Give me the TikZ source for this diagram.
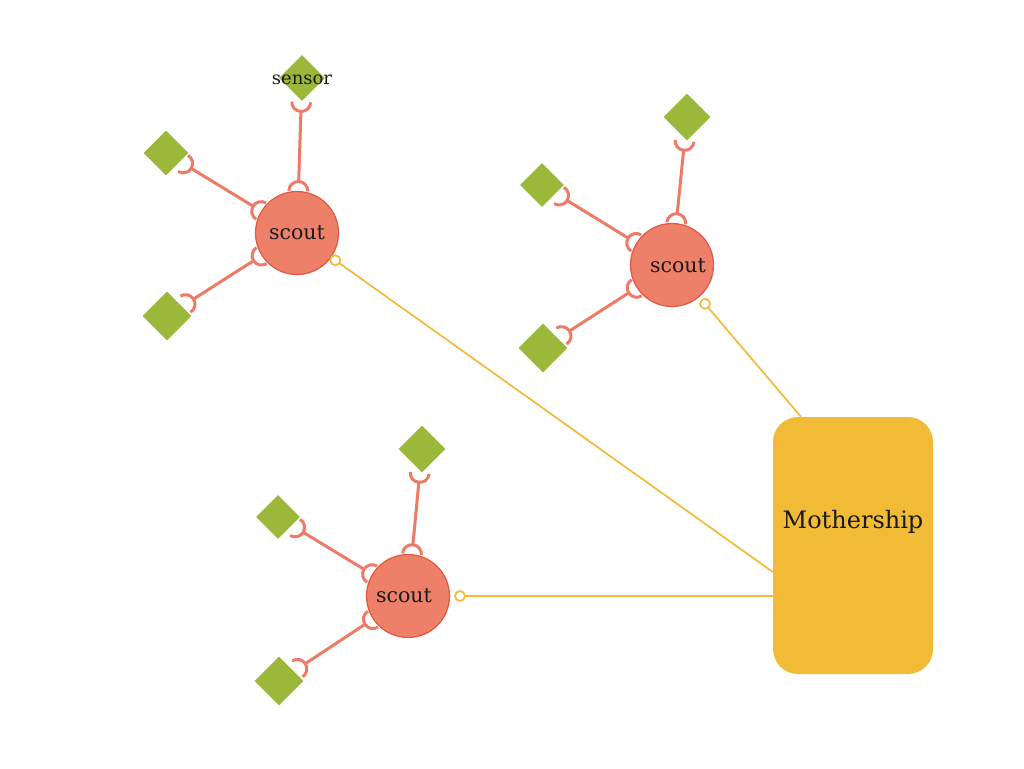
\documentclass[tikz,border=0pt]{standalone}
\usepackage{fontspec}
\setmainfont{DejaVu Serif}
\usetikzlibrary{shapes.geometric,calc}
\definecolor{scoutfill}{HTML}{EE806A}
\definecolor{scoutline}{HTML}{E0583F}
\definecolor{linkc}{HTML}{EE7B68}
\definecolor{sensorc}{HTML}{9BB83A}
\definecolor{motherc}{HTML}{F2BB35}
\definecolor{textc}{HTML}{1A1A1A}
\tikzset{
  scout/.style={circle, fill=scoutfill, draw=scoutline, line width=1.2pt, minimum size=83pt, inner sep=0pt},
  scouttext/.style={text=textc, font=\fontsize{20.5}{22}\selectfont},
  sensorbox/.style={diamond, fill=sensorc, inner sep=0pt, aspect=1},
  mothership/.style={rectangle, rounded corners=25pt, fill=motherc, minimum width=160pt, minimum height=257pt, inner sep=0pt},
  link/.style={draw=linkc, line width=3pt},
  mline/.style={draw=motherc, line width=1.7pt},
}
\newcommand\socketlink[3]{%
  \draw[link] let \p1=($(#2)-(#1)$), \n1={atan2(\y1,\x1)} in
    ($(#1)!42pt!(#2)+(\n1+90:9.5pt)$) arc[start angle=\n1+90, end angle=\n1-90, radius=9.5pt]
    ($(#1)!42pt!(#2)+(\n1:9.5pt)$) -- ($(#2)!#3!(#1)+(\n1+180:9.5pt)$)
    ($(#2)!#3!(#1)+(\n1-90:9.5pt)$) arc[start angle=\n1-90, end angle=\n1-270, radius=9.5pt];
}
\newcommand\balllink[3]{%
  \draw[mline, shorten <=#3pt+5pt] (#1.center) -- (#2);
  \draw[mline, fill=white] ($(#1.center)!#3pt!(#2)$) circle[radius=5pt];
}
\begin{document}
\begin{tikzpicture}[x=1pt, y=-1pt]
\useasboundingbox (0,0) rectangle (1024,768);
% mothership
\node[mothership, label={[text=textc, font=\fontsize{24}{26}\selectfont, yshift=23.5pt]center:Mothership}] (ms) at (853,545.5) {};
\coordinate (m1) at ($(ms.west)+(0,26.5)$);
\coordinate (m2) at ($(ms.north)+(-52,0)$);
\coordinate (m3) at ($(ms.west)+(0,50.5)$);
% scouts
\node[scout, label={[scouttext]center:scout}] (s1) at (297,233) {};
\node[scout, label={[scouttext, xshift=6pt, yshift=-1pt]center:scout}] (s2) at (672,265) {};
\node[scout, label={[scouttext, xshift=-4pt]center:scout}] (s3) at (408,596) {};
% sensors
\node[sensorbox, minimum size=46pt, label={[text=textc, font=\fontsize{18}{20}\selectfont, yshift=-2pt]center:sensor}] (d11) at (302,78) {};
\node[sensorbox, minimum size=45pt] (d12) at (166,153) {};
\node[sensorbox, minimum size=49pt] (d13) at (167,316) {};
\node[sensorbox, minimum size=47pt] (d21) at (687,117) {};
\node[sensorbox, minimum size=44pt] (d22) at (542,185) {};
\node[sensorbox, minimum size=49pt] (d23) at (543,348) {};
\node[sensorbox, minimum size=47pt] (d31) at (422,449) {};
\node[sensorbox, minimum size=44pt] (d32) at (278,517) {};
\node[sensorbox, minimum size=49pt] (d33) at (279,681) {};
% sensor links
\socketlink{s1}{d11}{24pt}
\socketlink{s1}{d12}{20pt}
\socketlink{s1}{d13}{22pt}
\socketlink{s2}{d21}{24pt}
\socketlink{s2}{d22}{20pt}
\socketlink{s2}{d23}{22pt}
\socketlink{s3}{d31}{24pt}
\socketlink{s3}{d32}{20pt}
\socketlink{s3}{d33}{22pt}
% mothership links
\balllink{s1}{m1}{47}
\balllink{s2}{m2}{51}
\balllink{s3}{m3}{52}
\end{tikzpicture}
\end{document}
